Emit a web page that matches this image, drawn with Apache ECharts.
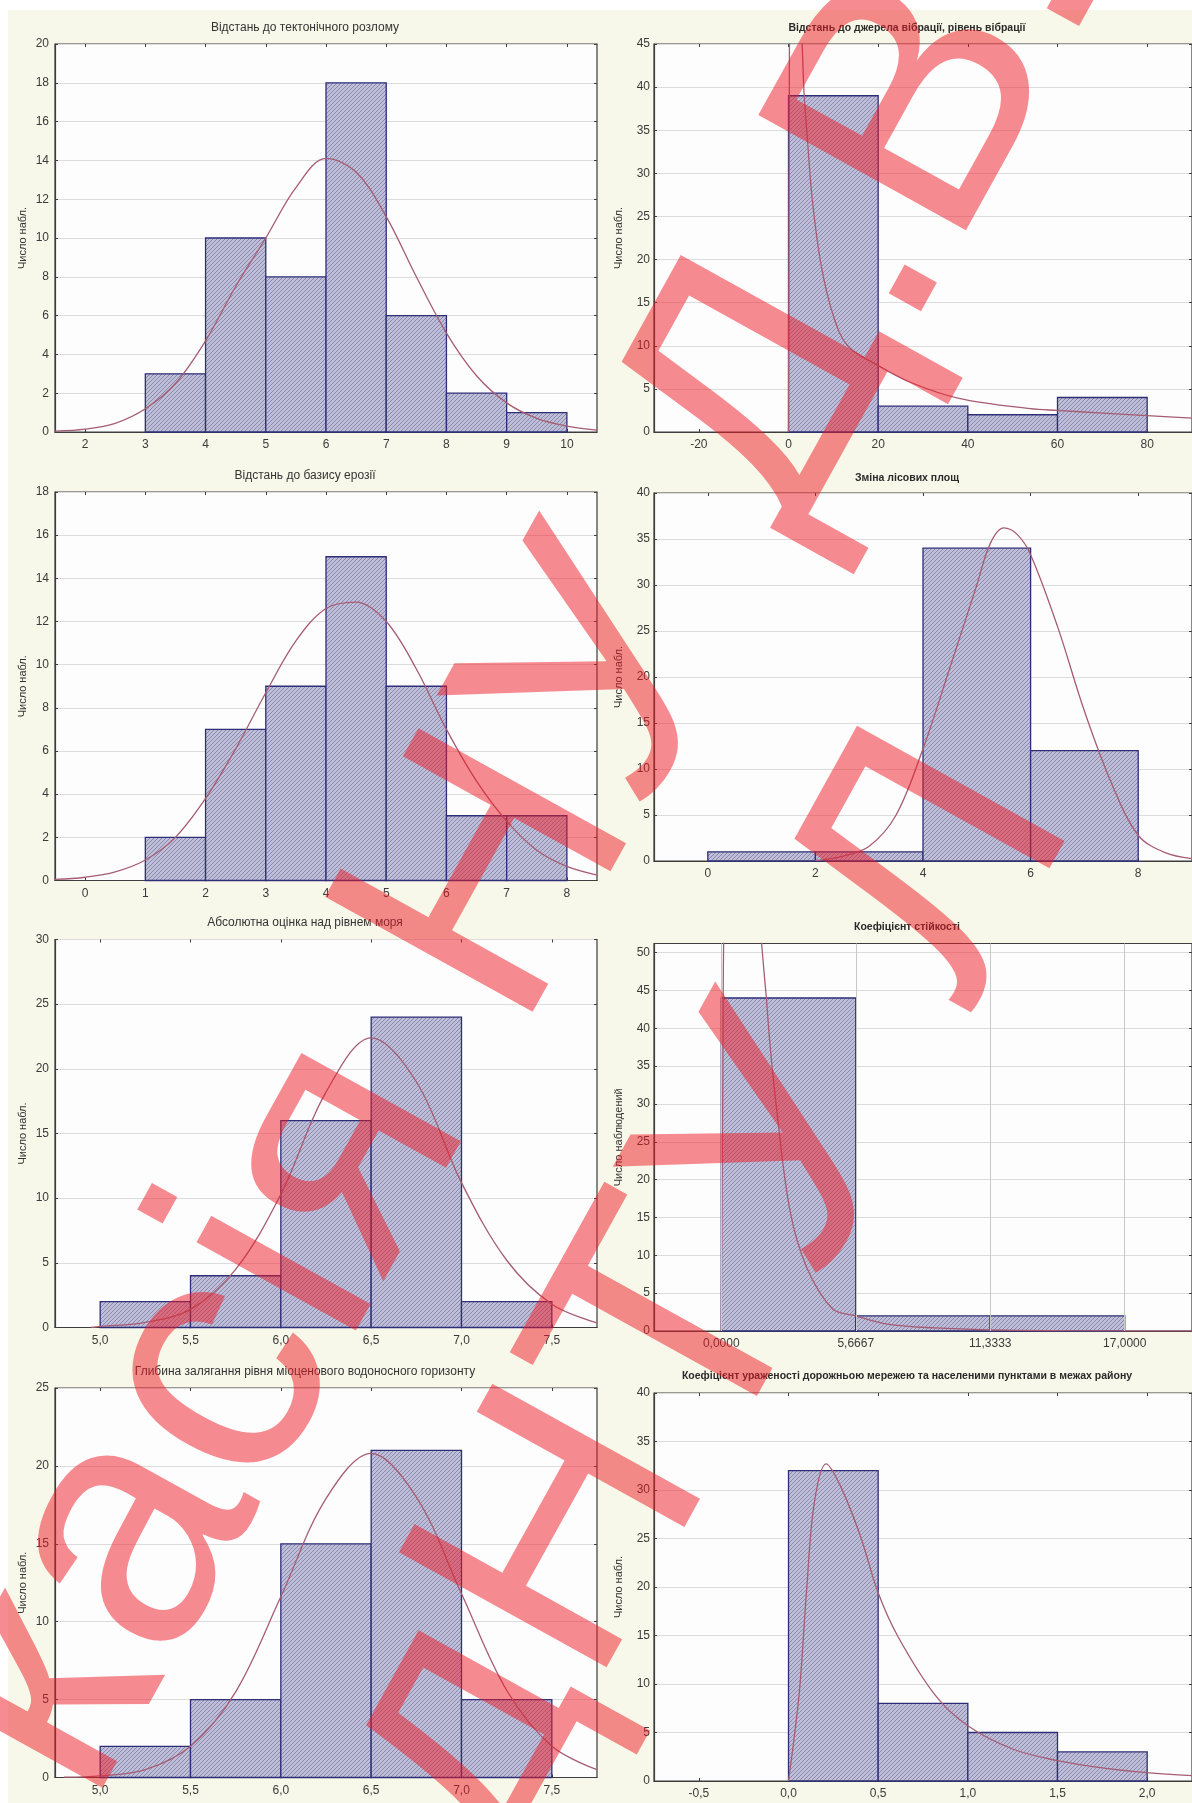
<!DOCTYPE html>
<html><head><meta charset="utf-8">
<script src="https://cdn.jsdelivr.net/npm/echarts@6/dist/echarts.min.js"></script>
<style>html,body{margin:0;padding:0;background:#fff}#c{width:1192px;height:1803px}</style>
</head><body><div id="c"></div><script>
// ---------------- DATA ----------------
const p1Title = 'Відстань до тектонічного розлому';
const p1Edges = [3, 4, 5, 6, 7, 8, 9, 10];
const p1Counts = [3, 10, 8, 18, 6, 2, 1];
const p1Curve = [[1.5,0.05],[2,0.15],[2.5,0.45],[3,1.2],[3.5,2.5],[4,4.7],[4.5,7.5],[5,10.0],[5.5,12.6],[6,14.1],[6.5,13.4],[7,11.1],[7.5,8.0],[8,5.1],[8.5,2.9],[9,1.5],[9.5,0.7],[10,0.3],[10.5,0.1]];
const p1XTicks = [2, 3, 4, 5, 6, 7, 8, 9, 10];
const p1YTicks = [0, 2, 4, 6, 8, 10, 12, 14, 16, 18, 20];

const p2Title = 'Відстань до базису ерозії';
const p2Edges = [1, 2, 3, 4, 5, 6, 7, 8];
const p2Counts = [2, 7, 9, 15, 9, 3, 3];
const p2Curve = [[-0.5,0.05],[0,0.15],[0.5,0.4],[1,0.95],[1.5,2.0],[2,3.8],[2.5,6.1],[3,8.7],[3.5,11.1],[4,12.6],[4.5,12.9],[5,12.0],[5.5,9.8],[6,7.0],[6.5,4.6],[7,2.75],[7.5,1.4],[8,0.65],[8.5,0.25]];
const p2XTicks = [0, 1, 2, 3, 4, 5, 6, 7, 8];
const p2YTicks = [0, 2, 4, 6, 8, 10, 12, 14, 16, 18];

const p3Title = 'Абсолютна оцінка над рівнем моря';
const p3Edges = [5.0, 5.5, 6.0, 6.5, 7.0, 7.5];
const p3Counts = [2, 4, 16, 24, 2];
const p3Curve = [[4.95,0.0],[5.0,0.08],[5.25,0.4],[5.5,1.4],[5.75,4.5],[6.0,10.3],[6.25,18.2],[6.5,22.4],[6.75,19.0],[7.0,11.2],[7.25,5.2],[7.5,1.8],[7.75,0.35]];
const p3XTicks = [5.0, 5.5, 6.0, 6.5, 7.0, 7.5];
const p3YTicks = [0, 5, 10, 15, 20, 25, 30];

const p4Title = 'Глибина залягання рівня міоценового водоносного горизонту';
const p4Edges = [5.0, 5.5, 6.0, 6.5, 7.0, 7.5];
const p4Counts = [2, 5, 15, 21, 5];
const p4Curve = [[4.8,0.02],[5.0,0.1],[5.25,0.5],[5.5,2.0],[5.75,5.5],[6.0,11.6],[6.25,17.9],[6.5,20.8],[6.75,18.0],[7.0,11.8],[7.25,5.6],[7.5,2.0],[7.75,0.5]];
const p4XTicks = [5.0, 5.5, 6.0, 6.5, 7.0, 7.5];
const p4YTicks = [0, 5, 10, 15, 20, 25];

const r1Title = 'Відстань до джерела вібрації, рівень вібрації';
const r1Edges = [0, 20, 40, 60, 80];
const r1Counts = [39, 3, 2, 4];
const r1Curve = [[0,0],[0.15,30],[0.4,60],[1.5,75],[2.6,52],[3.05,45],[3.5,39],[4.1,34.8],[5.3,27],[7.3,19.3],[10,13.5],[13.2,10],[20,7.7],[27,5.8],[38,3.9],[54,2.7],[60,2.5],[70,2.2],[80,1.9],[90,1.6]];
const r1XTicks = [-20, 0, 20, 40, 60, 80];
const r1YTicks = [0, 5, 10, 15, 20, 25, 30, 35, 40, 45];

const r2Title = 'Зміна лісових площ';
const r2Edges = [0, 2, 4, 6, 8];
const r2Counts = [1, 1, 34, 12];
const r2Curve = [[2,0.05],[2.5,0.5],[3,1.6],[3.5,5.0],[4,12.2],[4.5,21.0],[5,30.0],[5.25,34.5],[5.5,36.2],[5.75,35.5],[6,33.3],[6.5,25.5],[7,16.3],[7.5,8.5],[8,2.8],[8.5,0.9],[9,0.25]];
const r2XTicks = [0, 2, 4, 6, 8];
const r2YTicks = [0, 5, 10, 15, 20, 25, 30, 35, 40];

const r3Title = 'Коефіцієнт стійкості';
const r3Edges = [0, 5.6667, 11.3333, 17];
const r3Counts = [44, 2, 2];
const r3Curve = [[0,0],[0.06,30],[0.15,60],[1.0,80],[1.6,56],[1.7,51.2],[1.9,44],[2.05,38],[2.33,29.4],[2.89,16],[3.6,8.4],[4.7,2.9],[5.67,2.0],[7,0.9],[9,0.4],[11.33,0.15],[14.5,0.05],[19.83,0.01]];
const r3XTicks = [0, 5.6667, 11.3333, 17];
const r3YTicks = [0, 5, 10, 15, 20, 25, 30, 35, 40, 45, 50];

const r4Title = 'Коефіцієнт ураженості дорожньою мережею та населеними пунктами в межах району';
const r4Edges = [0, 0.5, 1.0, 1.5, 2.0];
const r4Counts = [32, 8, 5, 3];
const r4Curve = [[0,0],[0.06,9.1],[0.1,19.4],[0.144,28.7],[0.21,32.7],[0.29,30.4],[0.4,25.3],[0.5,19.4],[0.61,14.9],[0.82,8.8],[1.0,5.7],[1.25,3.3],[1.5,2.1],[1.77,1.3],[2.0,0.86],[2.25,0.55]];
const r4XTicks = [-0.5, 0.0, 0.5, 1.0, 1.5, 2.0];
const r4YTicks = [0, 5, 10, 15, 20, 25, 30, 35, 40];

const yNameShort = 'Число набл.';
const yNameLong = 'Число наблюдений';
const watermark1 = 'касія НУ Д.В.';
const watermark2 = 'дНТУ Л';

// ---------------- LAYOUT / STYLE ----------------
const FONT = '"Liberation Sans", Arial, sans-serif';
const LX = 55, RX = 654, PW = 542, RW = 543;
const panels = [
  {title:p1Title, edges:p1Edges, counts:p1Counts, curve:p1Curve, xt:p1XTicks, yt:p1YTicks, left:LX, width:PW, top:44, height:388, xMin:1.5, xMax:10.5, yMax:20, dec:0, tx:305, ty:28, bold:false, yName:yNameShort, gap:27},
  {title:p2Title, edges:p2Edges, counts:p2Counts, curve:p2Curve, xt:p2XTicks, yt:p2YTicks, left:LX, width:PW, top:492, height:388.5, xMin:-0.5, xMax:8.5, yMax:18, dec:0, tx:305, ty:476, bold:false, yName:yNameShort, gap:27},
  {title:p3Title, edges:p3Edges, counts:p3Counts, curve:p3Curve, xt:p3XTicks, yt:p3YTicks, left:LX, width:PW, top:939.5, height:388, xMin:4.75, xMax:7.75, yMax:30, dec:1, tx:305, ty:923, bold:false, yName:yNameShort, gap:27},
  {title:p4Title, edges:p4Edges, counts:p4Counts, curve:p4Curve, xt:p4XTicks, yt:p4YTicks, left:LX, width:PW, top:1388, height:389.5, xMin:4.75, xMax:7.75, yMax:25, dec:1, tx:305, ty:1372, bold:false, yName:yNameShort, gap:27},
  {title:r1Title, edges:r1Edges, counts:r1Counts, curve:r1Curve, xt:r1XTicks, yt:r1YTicks, left:RX, width:RW, top:44, height:388, xMin:-30, xMax:90, yMax:45, dec:0, tx:907, ty:28, bold:true, yName:yNameShort, gap:30},
  {title:r2Title, edges:r2Edges, counts:r2Counts, curve:r2Curve, xt:r2XTicks, yt:r2YTicks, left:RX, width:RW, top:493, height:368, xMin:-1, xMax:9, yMax:40, dec:0, tx:907, ty:478, bold:true, yName:yNameShort, gap:30},
  {title:r3Title, edges:r3Edges, counts:r3Counts, curve:r3Curve, xt:r3XTicks, yt:r3YTicks, left:RX, width:RW, top:943.5, height:387.5, xMin:-2.83335, xMax:19.83335, yMax:51.2, dec:4, tx:907, ty:927, bold:true, yName:yNameLong, gap:30, vgrid:true},
  {title:r4Title, edges:r4Edges, counts:r4Counts, curve:r4Curve, xt:r4XTicks, yt:r4YTicks, left:RX, width:RW, top:1393, height:388, xMin:-0.75, xMax:2.25, yMax:40, dec:1, tx:907, ty:1376, bold:true, yName:yNameShort, gap:30}
];

function fmt(v, d){ return (Math.abs(v) < 1e-9 ? 0 : v).toFixed(d).replace('.', ','); }

function makeHatch(){
  const c = document.createElement('canvas'); c.width = 4; c.height = 4;
  const g = c.getContext('2d');
  g.fillStyle = '#bebed8'; g.fillRect(0,0,4,4);
  g.fillStyle = '#8a8aae';
  for (let i = 0; i < 4; i++) g.fillRect(i, 3 - i, 1, 1);
  return c;
}
const hatch = makeHatch();

const AX = '#3d3d3d', LBL = '#3a3a3a';
const grid = [], xAxis = [], yAxis = [], series = [], graphic = [];

graphic.push({type:'rect', shape:{x:0, y:0, width:1192, height:10}, style:{fill:'#ffffff'}, silent:true, z:0});
graphic.push({type:'rect', shape:{x:0, y:0, width:8, height:1803}, style:{fill:'#ffffff'}, silent:true, z:0});

panels.forEach((p, i) => {
  grid.push({left:p.left, top:p.top, width:p.width, height:p.height, show:true, backgroundColor:'#fdfdfd', borderColor:AX, borderWidth:1.2});
  const tickStyle = {color:AX, width:1};
  xAxis.push({gridIndex:i, type:'value', position:'bottom', min:p.xMin, max:p.xMax,
    axisLine:{show:true, onZero:false, lineStyle:{color:AX, width:1.2}},
    axisTick:{show:true, inside:true, length:3, customValues:p.xt, lineStyle:tickStyle},
    axisLabel:{show:true, customValues:p.xt, margin:7, color:LBL, fontSize:12, fontFamily:FONT, formatter:v => fmt(v, p.dec)},
    splitLine:{show:false}});
  xAxis.push({gridIndex:i, type:'value', position:'top', min:p.xMin, max:p.xMax,
    axisLine:{show:false, onZero:false}, axisTick:{show:true, inside:true, length:3, customValues:p.xt, lineStyle:tickStyle},
    axisLabel:{show:false}, splitLine:{show:false}});
  yAxis.push({gridIndex:i, type:'value', position:'left', min:0, max:p.yMax,
    axisLine:{show:true, onZero:false, lineStyle:{color:AX, width:1.2}},
    axisTick:{show:true, inside:true, length:3, customValues:p.yt, lineStyle:tickStyle},
    axisLabel:{show:true, customValues:p.yt, margin:i < 4 ? 6 : 4, color:LBL, fontSize:12, fontFamily:FONT},
    splitLine:{show:true, lineStyle:{color:'#dcdcdc', width:1}},
    name:p.yName, nameLocation:'middle', nameGap:p.gap, nameRotate:90,
    nameTextStyle:{color:'#333', fontSize:11, fontFamily:FONT}});
  yAxis.push({gridIndex:i, type:'value', position:'right', min:0, max:p.yMax,
    axisLine:{show:false, onZero:false}, axisTick:{show:true, inside:true, length:3, customValues:p.yt, lineStyle:tickStyle},
    axisLabel:{show:false}, splitLine:{show:false}});

  const hist = p.counts.map((c, k) => [p.edges[k], p.edges[k + 1], c]);
  if (p.vgrid) {
    series.push({type:'line', xAxisIndex:2*i, yAxisIndex:2*i, data:[], z:1, silent:true,
      markLine:{silent:true, symbol:'none', label:{show:false}, animation:false,
        lineStyle:{color:'#c8c8c8', type:'solid', width:1},
        data:p.xt.map(v => ({xAxis:v}))}});
  }
  series.push({type:'custom', xAxisIndex:2*i, yAxisIndex:2*i, data:hist, z:2, silent:true,
    encode:{x:[0,1], y:2},
    renderItem:(params, api) => {
      const a = api.coord([api.value(0), api.value(2)]);
      const b = api.coord([api.value(1), 0]);
      return {type:'rect', shape:{x:a[0], y:a[1], width:b[0]-a[0], height:b[1]-a[1]},
        style:{fill:{image:hatch, repeat:'repeat'}, stroke:'#2e2e78', lineWidth:1.3}};
    }});
  series.push({type:'line', xAxisIndex:2*i, yAxisIndex:2*i, data:p.curve, z:4, silent:true,
    symbol:'none', showSymbol:false, smooth:0.35, clip:true,
    lineStyle:{color:'#a65c72', width:1.3}});

  graphic.push({type:'text', x:p.tx, y:p.ty, silent:true, z:5,
    style:{text:p.title, align:'center', verticalAlign:'middle', textAlign:'center', textVerticalAlign:'middle',
      font: p.bold ? ('bold 10.5px "Liberation Sans Narrow", ' + FONT) : ('12px ' + FONT),
      fill: p.bold ? '#2a2a2a' : '#333333'}});
});

const wmRot = 61 * Math.PI / 180;
const wmFill = 'rgba(238,25,35,0.5)';
graphic.push({type:'text', x:8, y:1762, rotation:wmRot, silent:true, z:100,
  style:{text:watermark1, font:'345px ' + FONT, fill:wmFill, align:'left', verticalAlign:'middle', textAlign:'left', textVerticalAlign:'middle'}});
graphic.push({type:'text', x:412, y:1822, rotation:wmRot, silent:true, z:100,
  style:{text:watermark2, font:'345px ' + FONT, fill:wmFill, align:'left', verticalAlign:'middle', textAlign:'left', textVerticalAlign:'middle'}});

const chart = echarts.init(document.getElementById('c'), null, {renderer:'canvas'});
chart.setOption({
  backgroundColor:'#f8f8ea',
  animation:false,
  grid, xAxis, yAxis, series,
  graphic:{elements:graphic}
});
</script></body></html>
